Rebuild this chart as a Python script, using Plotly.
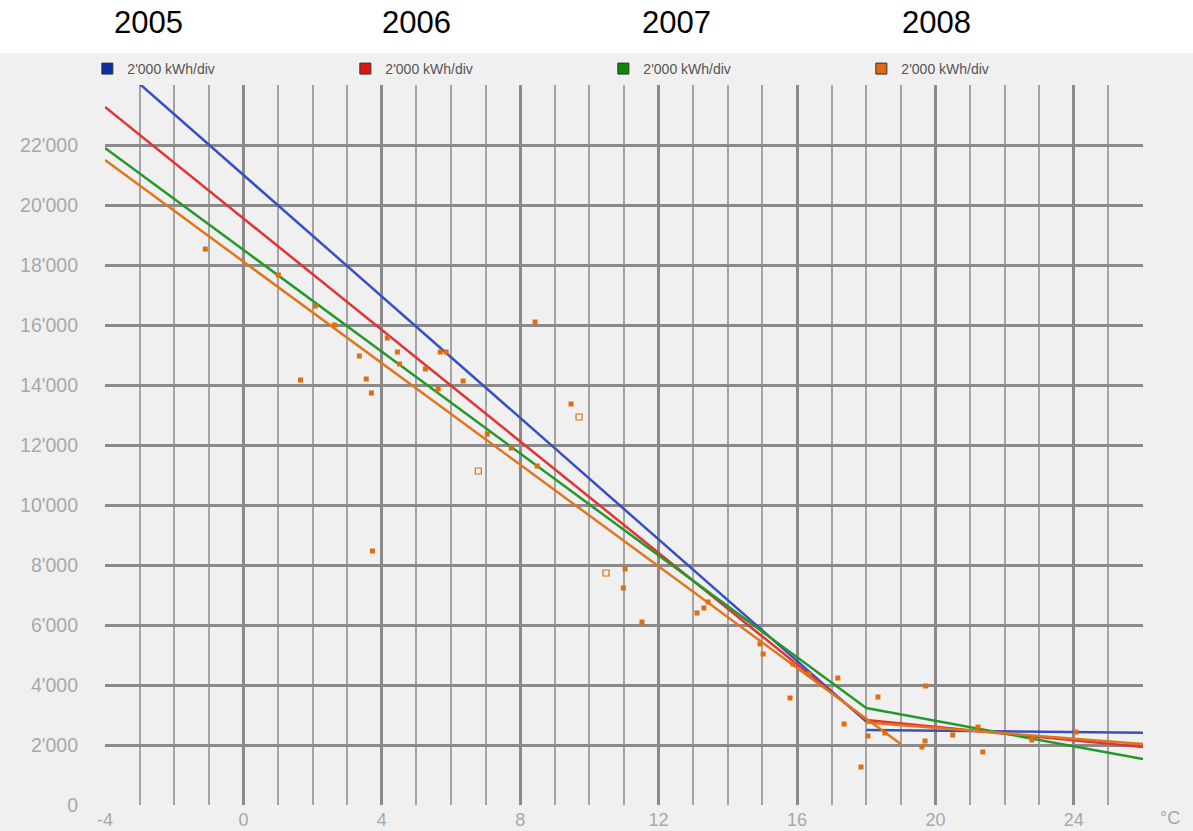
import plotly.graph_objects as go

# ---- data ----
years = ["2005", "2006", "2007", "2008"]
legend_label = "2'000 kWh/div"

pts_temp = [-1.10, 1.01, 1.65, 2.08, 2.63, 3.35, 3.55, 3.70, 3.73, 4.16, 4.45, 4.51,
            5.26, 5.63, 5.69, 5.86, 6.35, 7.05, 7.74, 8.43, 8.49, 9.47, 11.03, 10.98,
            11.52, 13.11, 13.31, 13.43, 14.93, 15.02, 15.88, 16.35, 17.18, 15.80,
            17.36, 17.85, 18.05, 18.34, 18.54, 19.61, 19.70, 19.72, 20.50, 21.23,
            21.37, 22.79, 24.06]
pts_kwh = [18533, 17667, 14167, 16633, 16000, 14967, 14200, 13733, 8467, 15567, 15100, 14700,
           14533, 13867, 15100, 15100, 14133, 12367, 11900, 16100, 11300, 13367, 7867, 7233,
           6100, 6400, 6567, 6767, 5367, 5033, 4700, 4367, 4233, 3567,
           2700, 1267, 2300, 3600, 2400, 1933, 2133, 3967, 2333, 2600,
           1767, 2167, 2433]
open_temp = [6.79, 9.70, 10.48]
open_kwh = [11133, 12933, 7733]

# regression lines: heating segment and summer segment per year
blue_heat_x, blue_heat_y = [-4, 18], [25050, 2780]
blue_summer_x, blue_summer_y = [18, 26], [2500, 2410]
red_heat_x, red_heat_y = [-4, 18], [23270, 2830]
red_summer_x, red_summer_y = [18, 26], [2830, 1930]
green_heat_x, green_heat_y = [-4, 18], [21900, 3230]
green_summer_x, green_summer_y = [18, 26], [3230, 1530]
orange_heat_x, orange_heat_y = [-4, 19], [21500, 2030]
orange_summer_x, orange_summer_y = [18, 26], [2750, 2030]

x_ticks = [-4, 0, 4, 8, 12, 16, 20, 24]
y_ticks = list(range(0, 24001, 2000))
y_labels = ["0" if v == 0 else ("" if v == 24000 else f"{v // 1000}'000") for v in y_ticks]

line_colors = ["#3a4fc4", "#e23434", "#23992a", "#e0761c"]
legend_colors = ["#0a2fa8", "#dd1515", "#0b8a0b", "#dd6a10"]
point_color = "#df6f0c"

fig = go.Figure()

segments = [
    (blue_heat_x, blue_heat_y, blue_summer_x, blue_summer_y),
    (red_heat_x, red_heat_y, red_summer_x, red_summer_y),
    (green_heat_x, green_heat_y, green_summer_x, green_summer_y),
    (orange_heat_x, orange_heat_y, orange_summer_x, orange_summer_y),
]
for (hx, hy, sx, sy), c in zip(segments, line_colors):
    fig.add_trace(go.Scatter(x=hx, y=hy, mode="lines", line=dict(color=c, width=2.5),
                             showlegend=False, hoverinfo="skip"))
    fig.add_trace(go.Scatter(x=sx, y=sy, mode="lines", line=dict(color=c, width=2.5),
                             showlegend=False, hoverinfo="skip"))

fig.add_trace(go.Scatter(x=pts_temp, y=pts_kwh, mode="markers",
                         marker=dict(symbol="square", size=5, color=point_color),
                         showlegend=False))
fig.add_trace(go.Scatter(x=open_temp, y=open_kwh, mode="markers",
                         marker=dict(symbol="square-open", size=6, color=point_color,
                                     line=dict(width=1.2)),
                         showlegend=False))

# legend entries
for c in legend_colors:
    fig.add_trace(go.Scatter(x=[None], y=[None], mode="markers", name=legend_label,
                             marker=dict(symbol="square", size=11, color=c,
                                         line=dict(color="#333333", width=1))))

# year labels at top
year_x = [148, 416, 676, 936]
annotations = []
for yr, px in zip(years, year_x):
    annotations.append(dict(text=yr, x=(px - 105) / 1038, y=1 + (85 - 22) / 720,
                            xref="paper", yref="paper", showarrow=False,
                            xanchor="center", yanchor="middle",
                            font=dict(family="Liberation Sans, Arial", size=31, color="#000000")))
annotations.append(dict(text="°C", x=(1170 - 105) / 1038, y=-(818 - 805) / 720,
                        xref="paper", yref="paper", showarrow=False,
                        xanchor="center", yanchor="middle",
                        font=dict(family="Liberation Sans, Arial", size=18, color="#a8a8a8")))

fig.update_layout(
    width=1193, height=831,
    margin=dict(l=105, r=50, t=85, b=26, autoexpand=False),
    paper_bgcolor="#f0f0f0",
    plot_bgcolor="#f0f0f0",
    font=dict(family="Liberation Sans, Arial", color="#a8a8a8"),
    showlegend=True,
    legend=dict(orientation="h", x=-0.017, xanchor="left", y=1 + (85 - 69) / 720,
                yanchor="middle", bgcolor="rgba(0,0,0,0)",
                entrywidth=213, entrywidthmode="pixels", itemwidth=30,
                font=dict(size=14, color="#555555"), tracegroupgap=0),
    annotations=annotations,
    shapes=[dict(type="rect", xref="paper", yref="paper",
                 x0=-105 / 1038, x1=1088 / 1038,
                 y0=1 + (85 - 53) / 720, y1=1 + 85 / 720,
                 fillcolor="#ffffff", line=dict(width=0), layer="below")],
    xaxis=dict(range=[-4, 26], tickmode="array", tickvals=x_ticks,
               ticktext=[str(v) for v in x_ticks],
               showgrid=True, gridcolor="#8a8a8a", gridwidth=3,
               minor=dict(dtick=1, tick0=-4, showgrid=True, gridcolor="#a4a4a4", gridwidth=2),
               zeroline=False, showline=False, ticks="",
               tickfont=dict(size=18, color="#a8a8a8"), ticklabelstandoff=2,
               automargin=False),
    yaxis=dict(range=[0, 24000], tickmode="array", tickvals=y_ticks, ticktext=y_labels,
               showgrid=True, gridcolor="#8a8a8a", gridwidth=3,
               zeroline=False, showline=False, ticks="",
               tickfont=dict(size=19.5, color="#a8a8a8"), ticklabelstandoff=26,
               automargin=False),
)

fig.write_html("out.html", config={"displayModeBar": False},
               post_script="document.body.style.margin='0';document.body.style.overflow='hidden';")
